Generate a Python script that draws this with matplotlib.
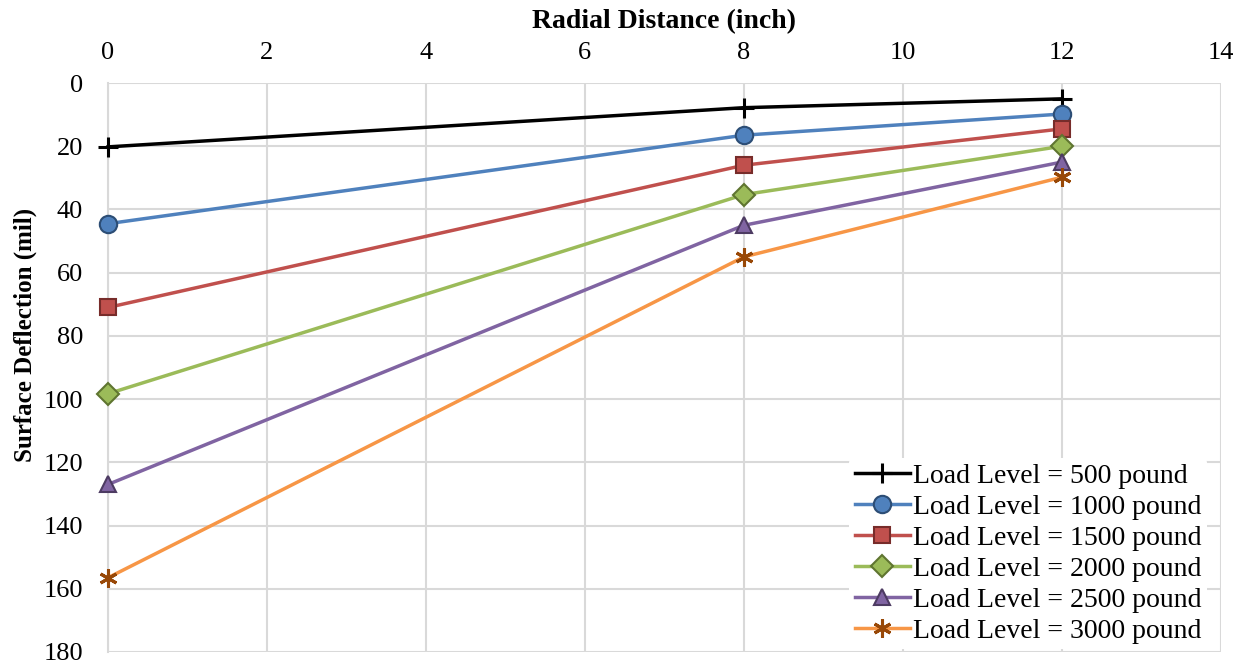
import matplotlib.pyplot as plt

plt.rcParams['font.family'] = ['Liberation Serif', 'DejaVu Serif']

# Radial distance (inch) and surface deflection (mil) per load level
distance = [0, 8, 12]
labels = ['Load Level = 500 pound', 'Load Level = 1000 pound', 'Load Level = 1500 pound',
          'Load Level = 2000 pound', 'Load Level = 2500 pound', 'Load Level = 3000 pound']
defl_500 = [20.2, 7.8, 5.0]
defl_1000 = [44.5, 16.5, 9.8]
defl_1500 = [71.0, 26.0, 14.5]
defl_2000 = [98.3, 35.3, 20.0]
defl_2500 = [127.0, 45.0, 25.0]
defl_3000 = [156.5, 55.0, 29.8]
series = [defl_500, defl_1000, defl_1500, defl_2000, defl_2500, defl_3000]

line_colors = ['#000000', '#4F81BD', '#C0504D', '#9BBB59', '#8064A2', '#F79646']
face_colors = ['#000000', '#4F81BD', '#C0504D', '#9BBB59', '#8064A2', '#984807']
edge_colors = ['#000000', '#2C4D75', '#772C2A', '#5F7530', '#4D3B62', '#984807']
markers = ['+', 'o', 's', 'D', '^', (6, 2, 0)]
sizes = [14, 12.5, 12, 11, 12, 13]

fig = plt.figure(figsize=(12.47, 6.67), dpi=100)
ax = fig.add_axes([0.0866, 0.0225, 0.8924, 0.853])

for y, lab, lc, fc, ec, m, s in zip(series, labels, line_colors, face_colors, edge_colors, markers, sizes):
    mew = 2.2 if m in ('+', (6, 2, 0)) else 1.5
    ax.plot(distance, y, color=lc, lw=2.5, marker=m, markersize=s,
            markerfacecolor=fc, markeredgecolor=ec, markeredgewidth=mew,
            label=lab, clip_on=False, zorder=3)

ax.set_xlim(0, 14)
ax.set_ylim(180, 0)
ax.set_xticks(range(0, 15, 2))
ax.set_yticks(range(0, 181, 20))
ax.xaxis.tick_top()
ax.xaxis.set_label_position('top')
ax.tick_params(length=0, labelsize=19)
ax.tick_params(axis='x', pad=14)
ax.tick_params(axis='y', pad=18)
ax.grid(True, color='#D9D9D9', lw=1.5)
for sp in ax.spines.values():
    sp.set_visible(False)
ax.spines['left'].set_visible(True)
ax.spines['left'].set_color('#D9D9D9')
ax.spines['left'].set_linewidth(1.5)

ax.set_xlabel('Radial Distance (inch)', fontsize=20, fontweight='bold', labelpad=10)
ax.set_ylabel('Surface Deflection (mil)', fontsize=18, fontweight='bold')
ax.yaxis.set_label_coords(-0.064, 0.557)

leg = ax.legend(loc='lower right', bbox_to_anchor=(0.99, 0.0), frameon=True, fontsize=20,
                handlelength=2.0, handletextpad=0.1, labelspacing=0.2, borderpad=0.2,
                borderaxespad=0.1)
leg.get_frame().set_edgecolor('none')
leg.get_frame().set_facecolor('white')
leg.get_frame().set_alpha(1)

fig.savefig('out.png', dpi=100)
